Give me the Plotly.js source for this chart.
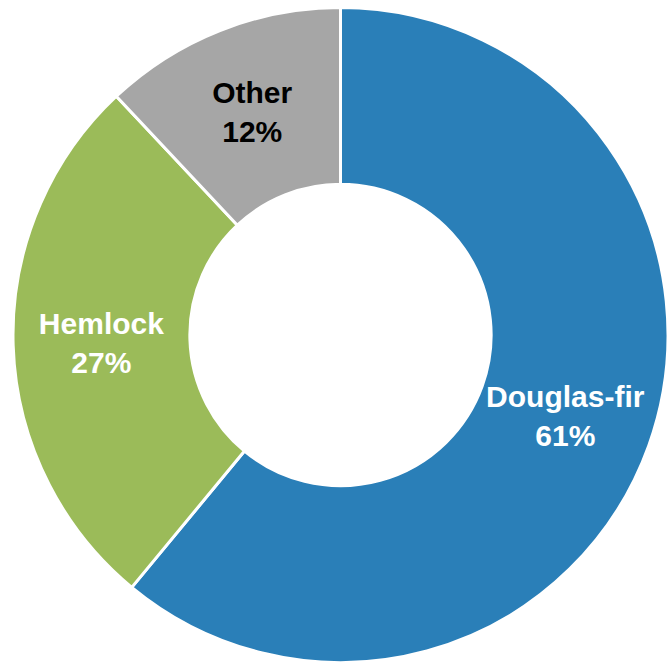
<!DOCTYPE html>
<html>
<head>
<meta charset="utf-8">
<script src="https://cdn.plot.ly/plotly-3.0.1.min.js"></script>
<style>html,body{margin:0;padding:0;background:#fff;}#chart{width:668px;height:663px;}</style>
</head>
<body>
<div id="chart"></div>
<script>
var categories = ["Douglas-fir", "Hemlock", "Other"];
var shares = [61, 27, 12];
var sliceColors = ["#2a7fb8", "#9bbb59", "#a6a6a6"];
var labelColors = ["#ffffff", "#ffffff", "#000000"];

var trace = {
  type: "pie",
  labels: categories,
  values: shares,
  hole: 0.46,
  sort: false,
  direction: "clockwise",
  rotation: 0,
  marker: {colors: sliceColors, line: {color: "#ffffff", width: 3}},
  textinfo: "label+percent",
  texttemplate: "<b>%{label}<br>%{percent:.0%}</b>",
  textposition: "inside",
  insidetextorientation: "horizontal",
  insidetextfont: {family: "Liberation Sans, Arial, sans-serif", size: 30, color: labelColors},
  hoverinfo: "none",
  showlegend: false
};

var layout = {
  width: 668,
  height: 663,
  margin: {l: 13, r: 0, t: 7, b: 0},
  paper_bgcolor: "#ffffff",
  showlegend: false,
  uniformtext: {minsize: 30, mode: "show"}
};

Plotly.newPlot("chart", [trace], layout, {staticPlot: true, displayModeBar: false});
</script>
</body>
</html>
